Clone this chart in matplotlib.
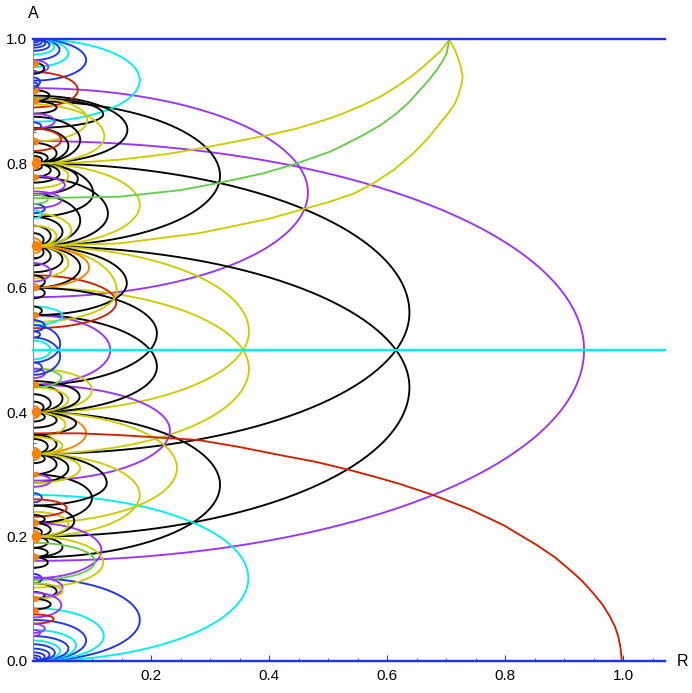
import numpy as np
import matplotlib
matplotlib.use("Agg")
import matplotlib.pyplot as plt
from matplotlib.ticker import MultipleLocator

plt.rcParams['font.family'] = ['Liberation Sans', 'DejaVu Sans']

COL = {
    'k': '#000000', 'y': '#cccc00', 'p': '#9933ff', 'b': '#1a33f0',
    'c': '#00f0f0', 'r': '#cc2200', 'o': '#ff8000', 'g': '#66cc4d',
}

# horizontal lines (A value, colour)
hlines_A = [0.0, 1.0, 0.5]
hlines_col = ['b', 'b', 'c']

# curves read point by point (R values, A values)
Y1_R = [0, 0.07, 0.147, 0.227, 0.30, 0.396, 0.447, 0.5034, 0.53, 0.5599, 0.59, 0.6164,
        0.64, 0.6616, 0.6898, 0.7056]
Y1_A = [0.8, 0.801, 0.806, 0.815, 0.827, 0.845, 0.856, 0.8725, 0.882, 0.8941, 0.908, 0.9234,
        0.939, 0.9555, 0.9797, 0.9985]
G_R = [0, 0.147, 0.25, 0.317, 0.39, 0.447, 0.5034, 0.53, 0.5599, 0.59, 0.6164, 0.638,
       0.6559, 0.671, 0.6842, 0.694, 0.7011, 0.7056]
G_A = [0.744, 0.7465, 0.757, 0.769, 0.784, 0.80, 0.8189, 0.831, 0.8457, 0.862, 0.8805, 0.899,
       0.918, 0.934, 0.9502, 0.964, 0.977, 0.9985]
Y2_R = [0, 0.147, 0.283, 0.40, 0.5034, 0.545, 0.5768, 0.612, 0.6446, 0.669, 0.6898, 0.704,
        0.7153, 0.722, 0.7266, 0.7282, 0.7237, 0.7153, 0.7056]
Y2_A = [0.667, 0.6715, 0.688, 0.711, 0.7385, 0.752, 0.768, 0.79, 0.8162, 0.84, 0.8644, 0.881,
        0.8966, 0.912, 0.9287, 0.9394, 0.9609, 0.9823, 0.9985]
RED_R = [0, 0.08, 0.15, 0.28, 0.35, 0.419, 0.48, 0.537, 0.58, 0.622, 0.678, 0.7407, 0.7972,
         0.8537, 0.885, 0.9102, 0.931, 0.9497, 0.965, 0.978, 0.9865, 0.9921, 0.996, 0.998]
RED_A = [0.366, 0.366, 0.363, 0.3553, 0.344, 0.331, 0.32, 0.307, 0.296, 0.2846, 0.2669, 0.2439,
         0.2186, 0.1865, 0.1665, 0.1463, 0.1285, 0.1088, 0.091, 0.0713, 0.055, 0.0391, 0.02, 0.0]

curves = [(Y1_R, Y1_A, 'y'), (G_R, G_A, 'g'), (Y2_R, Y2_A, 'y'), (RED_R, RED_A, 'r')]

# loops leaving the A axis: colour, upper end, lower end, A at the tip, R at the tip
loops = [
    ('p', 0.836, 0.161, 0.500, 0.934), ('p', 0.921, 0.585, 0.753, 0.466),
    ('k', 0.800, 0.333, 0.560, 0.638), ('k', 0.667, 0.200, 0.440, 0.638),
    ('y', 0.667, 0.400, 0.530, 0.366), ('y', 0.600, 0.333, 0.470, 0.366),
    ('k', 0.900, 0.667, 0.780, 0.317), ('k', 0.400, 0.1665, 0.283, 0.317),
    ('c', 0.267, 0.000, 0.133, 0.365), ('b', 0.133, 0.000, 0.066, 0.181),
    ('c', 1.000, 0.867, 0.934, 0.181), ('b', 1.000, 0.933, 0.966, 0.090),
    ('c', 1.000, 0.955, 0.977, 0.060), ('b', 1.000, 0.966, 0.983, 0.045),
    ('c', 1.000, 0.975, 0.987, 0.036), ('b', 1.000, 0.981, 0.990, 0.028),
    ('b', 1.000, 0.986, 0.993, 0.021), ('b', 1.000, 0.990, 0.995, 0.015),
    ('b', 1.000, 0.994, 0.997, 0.010), ('b', 1.000, 0.997, 0.998, 0.006),
    ('c', 0.085, 0.000, 0.040, 0.120), ('b', 0.066, 0.000, 0.033, 0.090),
    ('c', 0.050, 0.000, 0.025, 0.073), ('b', 0.040, 0.000, 0.020, 0.060),
    ('c', 0.033, 0.000, 0.016, 0.046), ('b', 0.027, 0.000, 0.013, 0.037),
    ('b', 0.020, 0.000, 0.010, 0.028), ('b', 0.014, 0.000, 0.007, 0.020),
    ('b', 0.009, 0.000, 0.0045, 0.013), ('b', 0.005, 0.000, 0.0025, 0.008),
    ('p', 0.444, 0.290, 0.371, 0.232), ('k', 0.600, 0.444, 0.527, 0.210),
    ('k', 0.556, 0.400, 0.473, 0.210), ('y', 0.400, 0.222, 0.310, 0.244),
    ('y', 0.333, 0.200, 0.267, 0.181), ('y', 0.800, 0.667, 0.733, 0.181),
    ('p', 0.556, 0.444, 0.500, 0.131), ('r', 0.620, 0.535, 0.576, 0.141),
    ('k', 0.667, 0.556, 0.607, 0.159), ('y', 0.667, 0.545, 0.595, 0.142),
    ('k', 0.909, 0.800, 0.854, 0.160), ('k', 0.333, 0.250, 0.286, 0.125),
    ('k', 0.300, 0.222, 0.262, 0.100), ('p', 0.222, 0.133, 0.178, 0.116),
    ('y', 0.470, 0.400, 0.436, 0.100), ('o', 0.400, 0.333, 0.366, 0.090),
    ('r', 0.947, 0.890, 0.918, 0.076), ('k', 0.778, 0.667, 0.719, 0.127),
    ('k', 0.800, 0.714, 0.752, 0.102), ('k', 0.905, 0.857, 0.879, 0.119),
    ('y', 0.895, 0.800, 0.843, 0.121), ('y', 0.905, 0.835, 0.870, 0.092),
    # around 0.8
    ('k', 0.833, 0.800, 0.816, 0.040), ('k', 0.818, 0.800, 0.809, 0.025),
    ('k', 0.857, 0.800, 0.828, 0.060), ('k', 0.875, 0.800, 0.838, 0.080),
    ('k', 0.812, 0.800, 0.806, 0.015), ('k', 0.800, 0.778, 0.789, 0.030),
    ('k', 0.800, 0.789, 0.795, 0.015), ('k', 0.800, 0.750, 0.775, 0.076),
    ('y', 0.800, 0.760, 0.780, 0.060), ('k', 0.800, 0.769, 0.784, 0.045),
    ('o', 0.810, 0.790, 0.800, 0.012), ('o', 0.805, 0.795, 0.800, 0.006),
    # around 0.667
    ('k', 0.700, 0.667, 0.683, 0.030), ('k', 0.714, 0.667, 0.690, 0.050),
    ('k', 0.750, 0.667, 0.708, 0.080), ('y', 0.720, 0.667, 0.692, 0.065),
    ('k', 0.688, 0.667, 0.677, 0.018), ('y', 0.700, 0.667, 0.683, 0.040),
    ('k', 0.667, 0.636, 0.651, 0.030), ('k', 0.667, 0.625, 0.646, 0.050),
    ('k', 0.667, 0.600, 0.633, 0.080), ('y', 0.667, 0.615, 0.640, 0.060),
    ('o', 0.667, 0.600, 0.633, 0.095), ('k', 0.667, 0.647, 0.657, 0.018),
    ('o', 0.680, 0.655, 0.667, 0.015), ('o', 0.675, 0.660, 0.667, 0.008),
    # around 0.4
    ('k', 0.429, 0.400, 0.414, 0.030), ('k', 0.444, 0.400, 0.422, 0.050),
    ('k', 0.450, 0.400, 0.425, 0.079), ('y', 0.440, 0.400, 0.420, 0.060),
    ('k', 0.417, 0.400, 0.408, 0.018), ('k', 0.400, 0.375, 0.387, 0.040),
    ('k', 0.400, 0.364, 0.382, 0.073), ('y', 0.400, 0.360, 0.380, 0.055),
    ('k', 0.400, 0.385, 0.392, 0.020), ('o', 0.410, 0.390, 0.400, 0.012),
    # around 0.333
    ('k', 0.364, 0.333, 0.348, 0.040), ('k', 0.357, 0.333, 0.345, 0.025),
    ('y', 0.360, 0.333, 0.346, 0.050), ('k', 0.333, 0.300, 0.316, 0.040),
    ('k', 0.333, 0.286, 0.310, 0.060), ('y', 0.333, 0.286, 0.310, 0.080),
    ('k', 0.333, 0.318, 0.325, 0.020), ('o', 0.343, 0.323, 0.333, 0.012),
    # around 0.2
    ('k', 0.222, 0.200, 0.211, 0.030), ('k', 0.250, 0.200, 0.225, 0.070),
    ('y', 0.240, 0.200, 0.220, 0.060), ('k', 0.214, 0.200, 0.207, 0.015),
    ('k', 0.200, 0.182, 0.191, 0.025), ('k', 0.200, 0.167, 0.183, 0.050),
    ('y', 0.200, 0.118, 0.158, 0.119), ('g', 0.190, 0.130, 0.160, 0.105),
    ('o', 0.210, 0.190, 0.200, 0.012),
    # smaller nodes
    ('k', 0.620, 0.600, 0.610, 0.020), ('k', 0.600, 0.583, 0.592, 0.020),
    ('o', 0.606, 0.596, 0.601, 0.010), ('p', 0.640, 0.610, 0.625, 0.030),
    ('c', 0.570, 0.540, 0.555, 0.050), ('k', 0.570, 0.556, 0.563, 0.015),
    ('o', 0.560, 0.551, 0.556, 0.007), ('b', 0.548, 0.530, 0.539, 0.020),
    ('b', 0.530, 0.520, 0.525, 0.012), ('g', 0.470, 0.440, 0.455, 0.048),
    ('o', 0.449, 0.440, 0.445, 0.007), ('p', 0.470, 0.455, 0.462, 0.020),
    ('b', 0.480, 0.465, 0.472, 0.015), ('b', 0.540, 0.480, 0.510, 0.046),
    ('b', 0.520, 0.460, 0.490, 0.046), ('c', 0.515, 0.485, 0.500, 0.030),
    ('k', 0.918, 0.900, 0.909, 0.028), ('o', 0.904, 0.896, 0.900, 0.007),
    ('k', 0.900, 0.880, 0.890, 0.040), ('o', 0.922, 0.912, 0.917, 0.008),
    ('p', 0.966, 0.945, 0.955, 0.026), ('k', 0.962, 0.944, 0.953, 0.019),
    ('o', 0.965, 0.955, 0.960, 0.008), ('b', 0.938, 0.924, 0.931, 0.012),
    ('b', 0.930, 0.920, 0.925, 0.009), ('p', 0.880, 0.856, 0.868, 0.037),
    ('b', 0.866, 0.854, 0.860, 0.014), ('r', 0.856, 0.820, 0.838, 0.048),
    ('o', 0.840, 0.830, 0.835, 0.009), ('p', 0.780, 0.750, 0.765, 0.054),
    ('p', 0.755, 0.728, 0.741, 0.048), ('b', 0.735, 0.720, 0.727, 0.020),
    ('c', 0.725, 0.712, 0.718, 0.015), ('g', 0.750, 0.735, 0.742, 0.025),
    ('o', 0.781, 0.773, 0.777, 0.008), ('p', 0.300, 0.280, 0.290, 0.030),
    ('o', 0.302, 0.296, 0.299, 0.007), ('b', 0.270, 0.255, 0.262, 0.015),
    ('r', 0.260, 0.232, 0.246, 0.057), ('o', 0.227, 0.217, 0.222, 0.008),
    ('k', 0.235, 0.222, 0.228, 0.020), ('o', 0.172, 0.162, 0.167, 0.008),
    ('k', 0.182, 0.167, 0.174, 0.025), ('k', 0.167, 0.150, 0.158, 0.025),
    ('b', 0.140, 0.125, 0.132, 0.015), ('k', 0.125, 0.100, 0.112, 0.040),
    ('k', 0.111, 0.100, 0.105, 0.020), ('p', 0.135, 0.100, 0.118, 0.050),
    ('y', 0.125, 0.100, 0.112, 0.050), ('o', 0.104, 0.096, 0.100, 0.007),
    ('k', 0.100, 0.083, 0.091, 0.030), ('p', 0.110, 0.070, 0.090, 0.048),
    ('o', 0.085, 0.077, 0.081, 0.006), ('r', 0.075, 0.060, 0.068, 0.035),
    ('p', 0.060, 0.045, 0.052, 0.020), ('p', 0.050, 0.040, 0.045, 0.012),
]

# orange points on the A axis
dots_A = [0.08, 0.1, 0.167, 0.2, 0.222, 0.3, 0.333, 0.4, 0.444, 0.556, 0.6,
          0.667, 0.778, 0.8, 0.835, 0.9, 0.917, 0.96]
dots_big = [0.2, 0.333, 0.4, 0.667, 0.8]


def loop_path(top, bot, a_tip, r_tip, n=80):
    t = np.linspace(0, np.pi / 2, n)
    r = np.concatenate([r_tip * np.sin(t), r_tip * np.sin(t[::-1])])
    a = np.concatenate([a_tip + (top - a_tip) * np.cos(t),
                        a_tip + (bot - a_tip) * np.cos(t[::-1])])
    return r, a


fig = plt.figure(figsize=(6.92, 6.93), dpi=100)
ax = fig.add_axes([33 / 692, 32 / 693, 632 / 692, 622 / 693])
ax.set_xlim(0, 632 / 590)
ax.set_ylim(0, 1.0)

lw = 1.35
for c, top, bot, a_tip, r_tip in loops:
    r, a = loop_path(top, bot, a_tip, r_tip)
    ax.plot(r, a, color=COL[c], lw=lw, solid_joinstyle='round')

for r, a, c in curves:
    ax.plot(r, a, color=COL[c], lw=lw, solid_joinstyle='round')

for a, c in zip(hlines_A, hlines_col):
    ax.axhline(a, color=COL[c], lw=1.7, clip_on=False, zorder=3)

sizes = [7 if a in dots_big else 4 for a in dots_A]
ax.scatter([0.006] * len(dots_A), dots_A, s=[s ** 2 for s in sizes],
           color=COL['o'], zorder=4, clip_on=False, linewidths=0)

for side in ['top', 'right']:
    ax.spines[side].set_visible(False)
for side in ['left', 'bottom']:
    ax.spines[side].set_color('#888888')
    ax.spines[side].set_linewidth(0.8)

ax.xaxis.set_major_locator(MultipleLocator(0.2))
ax.xaxis.set_minor_locator(MultipleLocator(0.05))
ax.yaxis.set_major_locator(MultipleLocator(0.2))
ax.yaxis.set_minor_locator(MultipleLocator(0.05))
ax.set_xticks([0.2, 0.4, 0.6, 0.8, 1.0])
ax.tick_params(which='both', direction='in', color='#444444', labelsize=11)
ax.tick_params(which='major', length=4.5, width=0.8)
ax.tick_params(which='minor', length=2.5, width=0.6)
ax.tick_params(axis='x', pad=6)
ax.tick_params(axis='y', pad=4)
ax.yaxis.set_major_formatter(plt.FuncFormatter(lambda v, p: f"{v:.1f}"))
ax.xaxis.set_major_formatter(plt.FuncFormatter(lambda v, p: f"{v:.1f}"))

fig.text(683 / 692, 1 - 661 / 693, "R", ha='center', va='center', fontsize=11.5)
fig.text(33 / 692, 1 - 14 / 693, "A", ha='center', va='center', fontsize=11.5)

fig.savefig("out.png", dpi=100)
